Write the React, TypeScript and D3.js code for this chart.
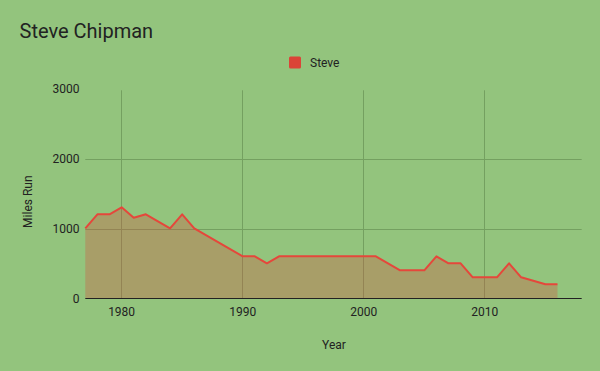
import React from 'react';
import * as d3 from 'd3';

const years = [
    1977, 1978, 1979, 1980, 1981, 1982, 1983, 1984, 1985, 1986, 1987, 1988, 1989, 1990,
    1991, 1992, 1993, 1994, 1995, 1996, 1997, 1998, 1999, 2000, 2001, 2002, 2003, 2004,
    2005, 2006, 2007, 2008, 2009, 2010, 2011, 2012, 2013, 2014, 2015, 2016,
];
const milesRun = [
    1000, 1200, 1200, 1300, 1150, 1200, 1100, 1000, 1200, 1000, 900, 800, 700, 600,
    600, 500, 600, 600, 600, 600, 600, 600, 600, 600, 600, 500, 400, 400,
    400, 600, 500, 500, 300, 300, 300, 500, 300, 250, 200, 200,
];
const yTicks = [0, 1000, 2000, 3000];
const xTicks = [1980, 1990, 2000, 2010];

const W = 600;
const H = 371;
const BG = '#93c47d';
const RED = '#db4437';
const LINE = '#e5473b';
const GRID = '#74a060';
const TEXT = '#222';
const FONT = 'Roboto, sans-serif';

const App: React.FC = () => {
    const x = d3.scaleLinear().domain([1977, 2018]).range([85.3, 581.7]);
    const y = d3.scaleLinear().domain([0, 3000]).range([298.3, 88.3]);

    const points = years.map((yr, i) => ({ yr, v: milesRun[i] }));

    const area = d3
        .area<{ yr: number; v: number }>()
        .x((d) => x(d.yr))
        .y0(y(0))
        .y1((d) => y(d.v));
    const line = d3
        .line<{ yr: number; v: number }>()
        .x((d) => x(d.yr))
        .y((d) => y(d.v));

    return (
        <svg
            width={W}
            height={H}
            style={{ position: 'absolute', left: 0, top: 0, display: 'block' }}
            fontFamily={FONT}
        >
            <rect width={W} height={H} fill={BG} />

            {/* title + legend */}
            <text x={19.5} y={37.5} fontSize={20} fill={TEXT}>
                Steve Chipman
            </text>
            <rect x={289} y={56.5} width={12} height={12} rx={1.5} fill={RED} />
            <text x={310} y={67} fontSize={12} fill={TEXT}>
                Steve
            </text>

            {/* gridlines */}
            {yTicks
                .filter((t) => t > 0 && t < 3000)
                .map((t) => (
                    <line
                        key={'gy' + t}
                        x1={x(1977)}
                        x2={x(2018)}
                        y1={Math.floor(y(t)) + 1.5}
                        y2={Math.floor(y(t)) + 1.5}
                        stroke={GRID}
                    />
                ))}
            {xTicks.map((t) => (
                <line
                    key={'gx' + t}
                    x1={Math.floor(x(t)) + 0.5}
                    x2={Math.floor(x(t)) + 0.5}
                    y1={y(3000) + 2}
                    y2={y(0)}
                    stroke={GRID}
                />
            ))}

            {/* series */}
            <path d={area(points) || ''} fill={RED} fillOpacity={0.3} />
            <path
                d={line(points) || ''}
                fill="none"
                stroke={LINE}
                strokeWidth={2}
                strokeLinejoin="round"
            />

            {/* baseline */}
            <line
                x1={x(1977)}
                x2={x(2018)}
                y1={Math.round(y(0)) + 0.5}
                y2={Math.round(y(0)) + 0.5}
                stroke={TEXT}
            />

            {/* y tick labels */}
            {yTicks.map((t) => (
                <text
                    key={'ty' + t}
                    x={79.5}
                    y={y(t) + 5}
                    fontSize={12}
                    textAnchor="end"
                    fill={TEXT}
                >
                    {t}
                </text>
            ))}

            {/* x tick labels */}
            {xTicks.map((t) => (
                <text
                    key={'tx' + t}
                    x={x(t)}
                    y={316}
                    fontSize={12}
                    textAnchor="middle"
                    fill={TEXT}
                >
                    {t}
                </text>
            ))}

            {/* axis titles */}
            <text x={334} y={349} fontSize={12} textAnchor="middle" fill={TEXT}>
                Year
            </text>
            <text
                transform="translate(32,201.7) rotate(-90)"
                fontSize={12}
                textAnchor="middle"
                fill={TEXT}
            >
                Miles Run
            </text>
        </svg>
    );
};

export default App;
